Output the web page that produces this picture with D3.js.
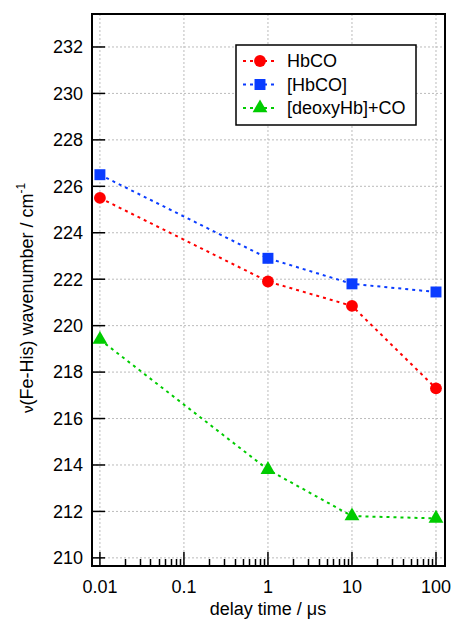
<!DOCTYPE html>
<html>
<head>
<meta charset="utf-8">
<script src="https://cdn.jsdelivr.net/npm/d3@7"></script>
<style>
  body { margin: 0; background: #fff; }
  svg { font-family: "Liberation Sans", Arial, sans-serif; }
</style>
</head>
<body>
<svg id="chart" width="452" height="619"></svg>
<script>
var delays = [0.01, 1, 10, 100];
var hbco = [225.5, 221.9, 220.85, 217.3];
var hbcoGem = [226.5, 222.9, 221.8, 221.45];
var deoxyCO = [219.4, 213.8, 211.8, 211.7];
var seriesNames = ["HbCO", "[HbCO]", "[deoxyHb]+CO"];
var xTicks = [0.01, 0.1, 1, 10, 100];
var yTicks = [210, 212, 214, 216, 218, 220, 222, 224, 226, 228, 230, 232];

var svg = d3.select("#chart"),
    margin = {top: 14, left: 92, right: 7, bottom: 53},
    width = 452 - margin.left - margin.right,
    height = 619 - margin.top - margin.bottom,
    g = svg.append("g").attr("transform", "translate(" + margin.left + "," + margin.top + ")");

var x = d3.scaleLog().domain([0.00805, 128]).range([0, width]);
var y = d3.scaleLinear().domain([209.65, 233.42]).range([height, 0]);

var colors = ["#ff0000", "#0a3cff", "#00cc00"];
var series = [hbco, hbcoGem, deoxyCO].map(function (vals, i) {
    return {name: seriesNames[i], color: colors[i], shape: i,
        points: vals.map(function (v, j) { return {x: delays[j], y: v}; })};
});

// grid
g.selectAll(".gx").data(xTicks).enter().append("line")
    .attr("x1", function (d) { return x(d); }).attr("x2", function (d) { return x(d); })
    .attr("y1", 0).attr("y2", height)
    .attr("stroke", "#bbb").attr("stroke-width", 1).attr("stroke-dasharray", "2,2");
g.selectAll(".gy").data(yTicks).enter().append("line")
    .attr("y1", function (d) { return y(d); }).attr("y2", function (d) { return y(d); })
    .attr("x1", 0).attr("x2", width)
    .attr("stroke", "#bbb").attr("stroke-width", 1).attr("stroke-dasharray", "2,2");

// minor x ticks
var minor = [];
[0.01, 0.1, 1, 10].forEach(function (dec) {
    for (var k = 2; k <= 9; k++) minor.push(dec * k);
});
g.selectAll(".mx").data(minor).enter().append("line")
    .attr("x1", function (d) { return Math.round(x(d)) + 0.5; }).attr("x2", function (d) { return Math.round(x(d)) + 0.5; })
    .attr("y1", height).attr("y2", height - 7)
    .attr("stroke", "#000").attr("stroke-width", 1.5);
g.selectAll(".tx").data(xTicks).enter().append("line")
    .attr("x1", function (d) { return x(d); }).attr("x2", function (d) { return x(d); })
    .attr("y1", height).attr("y2", height - 14)
    .attr("stroke", "#000").attr("stroke-width", 1.5);
g.selectAll(".ty").data(yTicks).enter().append("line")
    .attr("y1", function (d) { return y(d); }).attr("y2", function (d) { return y(d); })
    .attr("x1", 0).attr("x2", 13)
    .attr("stroke", "#000").attr("stroke-width", 1.5);

// tick labels
g.selectAll(".lx").data(xTicks).enter().append("text")
    .attr("x", function (d) { return x(d); }).attr("y", height + 27)
    .attr("text-anchor", "middle").attr("font-size", 18)
    .text(function (d) { return d; });
g.selectAll(".ly").data(yTicks).enter().append("text")
    .attr("x", -9).attr("y", function (d) { return y(d); }).attr("dy", "0.35em")
    .attr("text-anchor", "end").attr("font-size", 18)
    .text(function (d) { return d; });

// lines
var line = d3.line().x(function (d) { return x(d.x); }).y(function (d) { return y(d.y); });
g.selectAll(".series").data(series).enter().append("path")
    .attr("d", function (d) { return line(d.points); })
    .attr("fill", "none").attr("stroke", function (d) { return d.color; })
    .attr("stroke-width", 2).attr("stroke-dasharray", "3,4");

var shapes = [d3.symbolCircle, d3.symbolSquare, d3.symbolTriangle];
var sizes = [110, 120, 95];
function marker(sel, s) {
    sel.append("path")
        .attr("d", d3.symbol().type(shapes[s.shape]).size(sizes[s.shape]))
        .attr("fill", s.color);
}
series.forEach(function (s) {
    s.points.forEach(function (p) {
        var m = g.append("g").attr("transform", "translate(" + x(p.x) + "," + y(p.y) + ")");
        marker(m, s);
    });
});

// frame
g.append("rect").attr("x", 0).attr("y", 0).attr("width", width).attr("height", height)
    .attr("fill", "none").attr("stroke", "#000").attr("stroke-width", 2);

// legend
var lg = svg.append("g").attr("transform", "translate(236,45)");
lg.append("rect").attr("width", 180).attr("height", 80)
    .attr("fill", "#fff").attr("stroke", "#000").attr("stroke-width", 1.5);
series.forEach(function (s, i) {
    var row = lg.append("g").attr("transform", "translate(0," + (16 + i * 23.5) + ")");
    row.append("line").attr("x1", 7).attr("x2", 42)
        .attr("stroke", s.color).attr("stroke-width", 2).attr("stroke-dasharray", "3,4");
    var m = row.append("g").attr("transform", "translate(24,0)");
    marker(m, s);
    row.append("text").attr("x", 51).attr("dy", "0.35em").attr("font-size", 18).text(s.name);
});

// axis titles
svg.append("text").attr("x", margin.left + x(1)).attr("y", 615)
    .attr("text-anchor", "middle").attr("font-size", 18)
    .text("delay time / \u03bcs");
var yt = svg.append("text")
    .attr("transform", "translate(33," + (margin.top + height / 2 + 8) + ") rotate(-90)")
    .attr("text-anchor", "middle").attr("font-size", 18);
yt.append("tspan").attr("font-size", 15).text("\u03bd");
yt.append("tspan").text("(Fe-His) wavenumber / cm");
yt.append("tspan").attr("font-size", 12).attr("dy", -8).text("-1");
</script>
</body>
</html>
